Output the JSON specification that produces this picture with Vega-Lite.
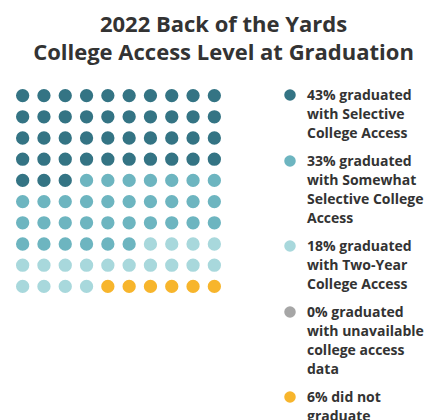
{
  "$schema": "https://vega.github.io/schema/vega-lite/v6.json",
  "width": 213,
  "height": 212,
  "padding": {"left": 12, "top": 14, "right": 0, "bottom": 0},
  "title": {
    "text": ["2022 Back of the Yards", "College Access Level at Graduation"],
    "font": "Open Sans",
    "fontSize": 22,
    "fontWeight": "bold",
    "color": "#333333",
    "lineHeight": 28,
    "anchor": "middle",
    "frame": "bounds",
    "offset": 20,
    "dx": 4
  },
  "data": {
    "values": [
      {"row": 1, "col": 1, "cat": "a"}, {"row": 1, "col": 2, "cat": "a"}, {"row": 1, "col": 3, "cat": "a"}, {"row": 1, "col": 4, "cat": "a"}, {"row": 1, "col": 5, "cat": "a"}, {"row": 1, "col": 6, "cat": "a"}, {"row": 1, "col": 7, "cat": "a"}, {"row": 1, "col": 8, "cat": "a"}, {"row": 1, "col": 9, "cat": "a"}, {"row": 1, "col": 10, "cat": "a"},
      {"row": 2, "col": 1, "cat": "a"}, {"row": 2, "col": 2, "cat": "a"}, {"row": 2, "col": 3, "cat": "a"}, {"row": 2, "col": 4, "cat": "a"}, {"row": 2, "col": 5, "cat": "a"}, {"row": 2, "col": 6, "cat": "a"}, {"row": 2, "col": 7, "cat": "a"}, {"row": 2, "col": 8, "cat": "a"}, {"row": 2, "col": 9, "cat": "a"}, {"row": 2, "col": 10, "cat": "a"},
      {"row": 3, "col": 1, "cat": "a"}, {"row": 3, "col": 2, "cat": "a"}, {"row": 3, "col": 3, "cat": "a"}, {"row": 3, "col": 4, "cat": "a"}, {"row": 3, "col": 5, "cat": "a"}, {"row": 3, "col": 6, "cat": "a"}, {"row": 3, "col": 7, "cat": "a"}, {"row": 3, "col": 8, "cat": "a"}, {"row": 3, "col": 9, "cat": "a"}, {"row": 3, "col": 10, "cat": "a"},
      {"row": 4, "col": 1, "cat": "a"}, {"row": 4, "col": 2, "cat": "a"}, {"row": 4, "col": 3, "cat": "a"}, {"row": 4, "col": 4, "cat": "a"}, {"row": 4, "col": 5, "cat": "a"}, {"row": 4, "col": 6, "cat": "a"}, {"row": 4, "col": 7, "cat": "a"}, {"row": 4, "col": 8, "cat": "a"}, {"row": 4, "col": 9, "cat": "a"}, {"row": 4, "col": 10, "cat": "a"},
      {"row": 5, "col": 1, "cat": "a"}, {"row": 5, "col": 2, "cat": "a"}, {"row": 5, "col": 3, "cat": "a"}, {"row": 5, "col": 4, "cat": "b"}, {"row": 5, "col": 5, "cat": "b"}, {"row": 5, "col": 6, "cat": "b"}, {"row": 5, "col": 7, "cat": "b"}, {"row": 5, "col": 8, "cat": "b"}, {"row": 5, "col": 9, "cat": "b"}, {"row": 5, "col": 10, "cat": "b"},
      {"row": 6, "col": 1, "cat": "b"}, {"row": 6, "col": 2, "cat": "b"}, {"row": 6, "col": 3, "cat": "b"}, {"row": 6, "col": 4, "cat": "b"}, {"row": 6, "col": 5, "cat": "b"}, {"row": 6, "col": 6, "cat": "b"}, {"row": 6, "col": 7, "cat": "b"}, {"row": 6, "col": 8, "cat": "b"}, {"row": 6, "col": 9, "cat": "b"}, {"row": 6, "col": 10, "cat": "b"},
      {"row": 7, "col": 1, "cat": "b"}, {"row": 7, "col": 2, "cat": "b"}, {"row": 7, "col": 3, "cat": "b"}, {"row": 7, "col": 4, "cat": "b"}, {"row": 7, "col": 5, "cat": "b"}, {"row": 7, "col": 6, "cat": "b"}, {"row": 7, "col": 7, "cat": "b"}, {"row": 7, "col": 8, "cat": "b"}, {"row": 7, "col": 9, "cat": "b"}, {"row": 7, "col": 10, "cat": "b"},
      {"row": 8, "col": 1, "cat": "b"}, {"row": 8, "col": 2, "cat": "b"}, {"row": 8, "col": 3, "cat": "b"}, {"row": 8, "col": 4, "cat": "b"}, {"row": 8, "col": 5, "cat": "b"}, {"row": 8, "col": 6, "cat": "b"}, {"row": 8, "col": 7, "cat": "c"}, {"row": 8, "col": 8, "cat": "c"}, {"row": 8, "col": 9, "cat": "c"}, {"row": 8, "col": 10, "cat": "c"},
      {"row": 9, "col": 1, "cat": "c"}, {"row": 9, "col": 2, "cat": "c"}, {"row": 9, "col": 3, "cat": "c"}, {"row": 9, "col": 4, "cat": "c"}, {"row": 9, "col": 5, "cat": "c"}, {"row": 9, "col": 6, "cat": "c"}, {"row": 9, "col": 7, "cat": "c"}, {"row": 9, "col": 8, "cat": "c"}, {"row": 9, "col": 9, "cat": "c"}, {"row": 9, "col": 10, "cat": "c"},
      {"row": 10, "col": 1, "cat": "c"}, {"row": 10, "col": 2, "cat": "c"}, {"row": 10, "col": 3, "cat": "c"}, {"row": 10, "col": 4, "cat": "c"}, {"row": 10, "col": 5, "cat": "e"}, {"row": 10, "col": 6, "cat": "e"}, {"row": 10, "col": 7, "cat": "e"}, {"row": 10, "col": 8, "cat": "e"}, {"row": 10, "col": 9, "cat": "e"}, {"row": 10, "col": 10, "cat": "e"}
    ]
  },
  "mark": {"type": "point", "filled": true, "opacity": 1, "size": 177, "shape": "circle"},
  "encoding": {
    "x": {"field": "col", "type": "quantitative", "scale": {"domain": [0.5, 10.5]}, "axis": null},
    "y": {"field": "row", "type": "quantitative", "scale": {"domain": [0.5, 10.5], "reverse": true}, "axis": null},
    "color": {
      "field": "cat",
      "type": "nominal",
      "scale": {
        "domain": ["a", "b", "c", "d", "e"],
        "range": ["#347484", "#6db5c0", "#a8d8dc", "#a6a6a6", "#f7b52c"]
      },
      "legend": {
        "title": null,
        "orient": "right",
        "offset": 55,
        "padding": 3,
        "symbolType": "circle",
        "symbolSize": 133,
        "symbolStrokeWidth": 0,
        "labelFont": "Open Sans",
        "labelFontSize": 14,
        "labelFontWeight": "bold",
        "labelColor": "#333333",
        "labelOffset": 10,
        "labelLimit": 300,
        "labelBaseline": "alphabetic",
        "rowPadding": 13,
        "labelExpr": "datum.value == 'a' ? ['43% graduated', 'with Selective', 'College Access'] : datum.value == 'b' ? ['33% graduated', 'with Somewhat', 'Selective College', 'Access'] : datum.value == 'c' ? ['18% graduated', 'with Two-Year', 'College Access'] : datum.value == 'd' ? ['0% graduated', 'with unavailable', 'college access', 'data'] : ['6% did not', 'graduate']"
      }
    }
  },
  "config": {
    "view": {"stroke": null},
    "style": {"guide-label": {"lineHeight": 19, "dy": 5}}
  }
}
